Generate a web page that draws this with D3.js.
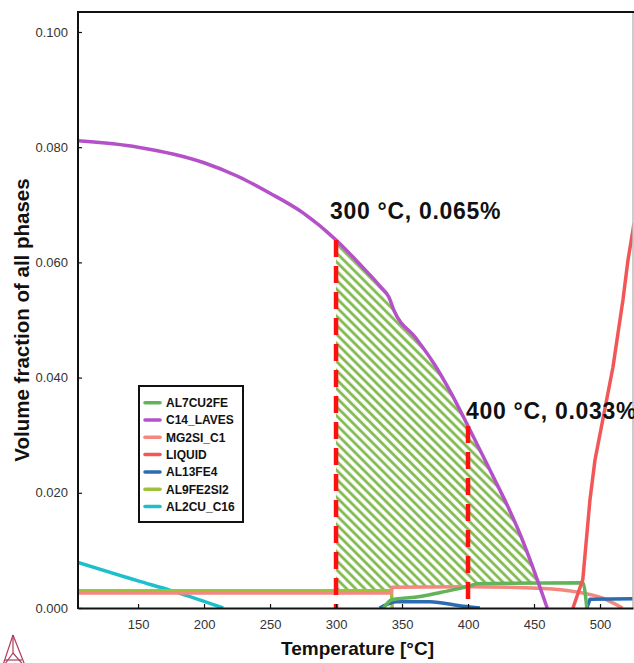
<!DOCTYPE html>
<html>
<head>
<meta charset="utf-8">
<script src="https://d3js.org/d3.v7.min.js"></script>
<style>
  body { margin: 0; background: #fff; }
  text { font-family: "Liberation Sans", Arial, sans-serif; }
</style>
</head>
<body>
<script>
// temperatures [°C] and volume fractions
var lavesT = [104.5, 150, 200, 225, 250, 275, 300, 320, 334, 340, 344, 360, 374, 387, 400, 410, 420, 430, 440, 450, 460];
var lavesV = [0.0811, 0.0800, 0.0773, 0.0750, 0.0720, 0.0686, 0.0639, 0.0592, 0.0557, 0.0540, 0.0516, 0.0470, 0.0425, 0.0374, 0.0316, 0.0270, 0.0224, 0.0177, 0.0125, 0.0065, 0.0];

var al7T = [336, 342, 361, 379, 401, 407, 487, 490];
var al7V = [0.0, 0.0014, 0.0019, 0.0027, 0.0038, 0.0042, 0.0044, 0.0];

var mg2siT = [104.5, 342, 342.5, 400, 457, 482, 502, 517];
var mg2siV = [0.0026, 0.0026, 0.0036, 0.0037, 0.0034, 0.0028, 0.0017, 0.0];

var liquidT = [479.5, 487, 492.4, 496.2, 509.8, 517.4, 521.2, 525.8];
var liquidV = [0.0, 0.0050, 0.0188, 0.0257, 0.0418, 0.0535, 0.0604, 0.0668];

var al13T1 = [333, 346, 371, 396.5, 409];
var al13V1 = [0.0, 0.0011, 0.0011, 0.0003, 0.0];
var al13T2 = [490, 492.4, 526];
var al13V2 = [0.0, 0.0015, 0.0016];

var al9T = [104.5, 342, 342.5];
var al9V = [0.0030, 0.0030, 0.0];

var al2cuT = [104.5, 150, 174, 214.5];
var al2cuV = [0.0079, 0.0047, 0.0031, 0.0];

// lower edge of the hatched band
var hatchLowT = [300, 342, 342.5, 401, 407, 453];
var hatchLowV = [0.0031, 0.0031, 0.0037, 0.0038, 0.0042, 0.0043];

var markT = [300, 400];
var markV = [0.0639, 0.0316];
var markLabels = ["300 °C, 0.065%", "400 °C, 0.033%"];

var xTicks = [150, 200, 250, 300, 350, 400, 450, 500];
var yTicks = [0, 0.02, 0.04, 0.06, 0.08, 0.10];

var legendNames = ["AL7CU2FE", "C14_LAVES", "MG2SI_C1", "LIQUID", "AL13FE4", "AL9FE2SI2", "AL2CU_C16"];
var legendColors = ["#62b35a", "#b450c8", "#f4877f", "#f25656", "#2b6cb0", "#9dc23a", "#1cbfcb"];

var W = 634, H = 663;
var pLeft = 78, pRight = 633, pTop = 12, pBottom = 608;

var svg = d3.select("body").append("svg")
    .attr("width", W)
    .attr("height", H);

var x = d3.scaleLinear().domain([104.5, 525]).range([pLeft, pRight]);
var y = d3.scaleLinear().domain([0, 0.10347]).range([pBottom, pTop]);

function pts(ts, vs) {
    return ts.map(function(t, i) { return [t, vs[i]]; });
}

var line = d3.line()
    .x(function(d) { return x(d[0]); })
    .y(function(d) { return y(d[1]); });
var smooth = d3.line()
    .x(function(d) { return x(d[0]); })
    .y(function(d) { return y(d[1]); })
    .curve(d3.curveMonotoneX);

var defs = svg.append("defs");
defs.append("clipPath").attr("id", "plotclip")
    .append("rect")
    .attr("x", pLeft).attr("y", pTop)
    .attr("width", pRight - pLeft).attr("height", pBottom - pTop);

var pat = defs.append("pattern")
    .attr("id", "hatch")
    .attr("patternUnits", "userSpaceOnUse")
    .attr("width", 6.4).attr("height", 6.4)
    .attr("patternTransform", "rotate(-45)");
pat.append("line")
    .attr("x1", 1.6).attr("y1", 0).attr("x2", 1.6).attr("y2", 6.4)
    .attr("stroke", "#80ba4e").attr("stroke-width", 2.8);

var plot = svg.append("g").attr("clip-path", "url(#plotclip)");

// hatched region: under the laves curve from 300 °C, above the small phases
var upper = pts(lavesT, lavesV).filter(function(d) { return d[0] >= 300 && d[1] >= 0.0043; });
var lowerBack = pts(hatchLowT, hatchLowV).reverse()
    .map(function(d) { return x(d[0]) + "," + y(d[1]); });
plot.append("path")
    .attr("d", smooth(upper) + "L" + lowerBack.join("L") + "Z")
    .attr("fill", "url(#hatch)")
    .attr("stroke", "none");

var series = [
    {t: al2cuT, v: al2cuV, c: legendColors[6], s: true},
    {t: al9T, v: al9V, c: legendColors[5], s: false},
    {t: mg2siT, v: mg2siV, c: legendColors[2], s: true},
    {t: al13T1, v: al13V1, c: legendColors[4], s: true},
    {t: al13T2, v: al13V2, c: legendColors[4], s: false},
    {t: al7T, v: al7V, c: legendColors[0], s: true},
    {t: liquidT, v: liquidV, c: legendColors[3], s: false},
    {t: lavesT, v: lavesV, c: legendColors[1], s: true}
];

plot.selectAll("path.series")
    .data(series)
    .enter()
    .append("path")
    .attr("class", "series")
    .attr("d", function(d) { return (d.s ? smooth : line)(pts(d.t, d.v)); })
    .attr("fill", "none")
    .attr("stroke", function(d) { return d.c; })
    .attr("stroke-width", 3.5)
    .attr("stroke-linejoin", "round");

// red dashed markers, dashes start from the top
plot.selectAll("line.mark")
    .data(markT)
    .enter()
    .append("line")
    .attr("class", "mark")
    .attr("x1", function(d) { return x(d); })
    .attr("x2", function(d) { return x(d); })
    .attr("y1", function(d, i) { return y(markV[i]); })
    .attr("y2", y(0))
    .attr("stroke", "#ff1010")
    .attr("stroke-width", 4.5)
    .attr("stroke-dasharray", "17,9");

// frame
svg.append("line").attr("x1", pRight).attr("x2", pRight).attr("y1", pTop).attr("y2", pBottom)
    .attr("stroke", "#bbb").attr("stroke-width", 1.5);
svg.append("line").attr("x1", pLeft).attr("x2", pRight + 1).attr("y1", pTop).attr("y2", pTop)
    .attr("stroke", "#111").attr("stroke-width", 2);

var xAxis = svg.append("g")
    .attr("transform", "translate(0," + pBottom + ")")
    .call(d3.axisBottom(x).tickValues(xTicks).tickSizeInner(-4).tickSizeOuter(0).tickPadding(12));
var yAxis = svg.append("g")
    .attr("transform", "translate(" + pLeft + ",0)")
    .call(d3.axisLeft(y).tickValues(yTicks).tickFormat(d3.format(".3f")).tickSizeInner(-4).tickSizeOuter(0).tickPadding(10));

[xAxis, yAxis].forEach(function(a) {
    a.select(".domain").attr("stroke", "#111").attr("stroke-width", 2);
    a.selectAll(".tick line").attr("stroke", "#111").attr("stroke-width", 1.2);
    a.selectAll(".tick text")
        .attr("fill", "#333")
        .style("font-size", "13px")
        .style("font-family", "'Liberation Sans', Arial, sans-serif");
});
yAxis.select(".domain").attr("d", "M0," + (pBottom + 1) + "V" + (pTop - 1));

// axis titles
svg.append("text")
    .attr("x", (pLeft + pRight) / 2 + 2)
    .attr("y", 655)
    .attr("text-anchor", "middle")
    .style("font-size", "19px")
    .style("font-weight", "bold")
    .attr("fill", "#111")
    .text("Temperature [°C]");

svg.append("text")
    .attr("transform", "translate(29,320) rotate(-90)")
    .attr("text-anchor", "middle")
    .style("font-size", "20.5px")
    .style("font-weight", "bold")
    .attr("fill", "#111")
    .text("Volume fraction of all phases");

// annotations
var labelPos = [[330, 219], [466, 419]];
svg.selectAll("text.anno")
    .data(markLabels)
    .enter()
    .append("text")
    .attr("class", "anno")
    .attr("x", function(d, i) { return labelPos[i][0]; })
    .attr("y", function(d, i) { return labelPos[i][1]; })
    .style("font-size", "23px")
    .style("font-weight", "bold")
    .style("letter-spacing", "0.7px")
    .attr("fill", "#111")
    .text(function(d) { return d; });

// legend
var lg = svg.append("g").attr("transform", "translate(139,386)");
lg.append("rect")
    .attr("width", 104).attr("height", 136)
    .attr("fill", "#fff")
    .attr("stroke", "#111").attr("stroke-width", 2);
var rows = lg.selectAll("g.row")
    .data(legendNames)
    .enter()
    .append("g")
    .attr("class", "row")
    .attr("transform", function(d, i) { return "translate(0," + (16.7 + i * 17.3) + ")"; });
rows.append("line")
    .attr("x1", 6).attr("x2", 21)
    .attr("stroke", function(d, i) { return legendColors[i]; })
    .attr("stroke-width", 3.5)
    .attr("stroke-linecap", "round");
rows.append("text")
    .attr("x", 27)
    .attr("y", 4.3)
    .style("font-size", "12px")
    .style("font-weight", "bold")
    .attr("fill", "#111")
    .text(function(d) { return d; });

// small logo in the corner
var logo = svg.append("g")
    .attr("fill", "none")
    .attr("stroke", "#b03a5b")
    .attr("stroke-width", 1.2);
[[13, 635, 2, 668], [13, 635, 26, 668], [13, 635, 13, 653], [13, 653, 2, 668], [13, 653, 26, 668], [5, 660, 22, 660]]
    .forEach(function(s) {
        logo.append("line").attr("x1", s[0]).attr("y1", s[1]).attr("x2", s[2]).attr("y2", s[3]);
    });
</script>
</body>
</html>
